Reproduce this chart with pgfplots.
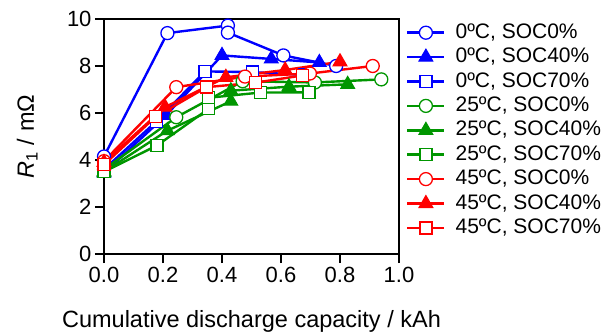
\documentclass[border=0pt]{standalone}
\usepackage{fontspec}
\setmainfont{Liberation Sans}
\usepackage{pgfplots}
\pgfplotsset{compat=1.18}
\definecolor{cb}{RGB}{0,0,255}
\definecolor{cg}{RGB}{0,150,0}
\definecolor{cr}{RGB}{255,0,0}
\begin{document}
\begin{tikzpicture}
\useasboundingbox (-104bp,-82bp) rectangle (507bp,254bp);
\begin{axis}[
  at={(0,0)}, anchor=south west,
  scale only axis, width=295bp, height=235bp,
  xmin=0, xmax=1, ymin=0, ymax=10,
  xtick={0,0.2,...,1.0}, ytick={0,2,...,10},
  x tick label style={/pgf/number format/.cd,fixed,fixed zerofill,precision=1,/tikz/.cd, yshift=-1bp},
  /pgf/number format/assume math mode=true,
  tick align=outside, tick pos=left,
  major tick length=9bp,
  axis line style={line width=1.8bp},
  every tick/.style={black, line width=1.8bp},
  tick label style={font=\fontsize{22bp}{24bp}\selectfont},
  label style={font=\fontsize{23.5bp}{26bp}\selectfont},
  xlabel={Cumulative discharge capacity / kAh},
  ylabel={\textit{R}\textsubscript{1} / mΩ},
  xlabel style={at={(axis description cs:0.5,-0.285)}, anchor=center},
  ylabel style={at={(axis description cs:-0.26,0.5)}, anchor=center},
  legend style={at={(axis description cs:1,1)}, anchor=north west, xshift=7bp, yshift=-4bp,
    draw=none, fill=none, inner sep=0pt, row sep=5.4bp,
    font=\fontsize{21bp}{23bp}\selectfont,
    nodes={inner sep=0pt, text height=15bp, text depth=4bp}},
  legend cell align=left,
  legend image code/.code={
    \draw[mark repeat=2,mark phase=2] plot coordinates {(0bp,0bp)(18.5bp,0bp)(37bp,0bp)};
    \path (47bp,0bp);
  },
  every axis plot/.append style={line width=2.4bp},
]
% 0 C
\addplot[cb, mark=*, mark size=6.5bp, mark options={fill=white, line width=1.3bp}] coordinates {(0,4.15)(0.215,9.4)(0.42,9.72)(0.42,9.42)(0.608,8.45)(0.787,8.0)};
\addlegendentry{0ºC, SOC0\%}
\addplot[cb, mark=triangle*, mark size=8bp, mark options={fill=cb, line width=1bp}] coordinates {(0,3.45)(0.21,5.9)(0.40,8.45)(0.567,8.3)(0.73,8.15)};
\addlegendentry{0ºC, SOC40\%}
\addplot[cb, mark=square*, mark size=6bp, mark options={fill=white, line width=1.3bp}] coordinates {(0,3.6)(0.178,5.65)(0.342,7.77)(0.504,7.74)(0.68,7.62)};
\addlegendentry{0ºC, SOC70\%}
% 25 C
\addplot[cg, mark=*, mark size=6.5bp, mark options={fill=white, line width=1.3bp}] coordinates {(0,3.6)(0.245,5.82)(0.47,7.35)(0.715,7.3)(0.94,7.43)};
\addlegendentry{25ºC, SOC0\%}
\addplot[cg, mark=triangle*, mark size=8bp, mark options={fill=cg, line width=1bp}] coordinates {(0,3.5)(0.215,5.25)(0.43,6.5)(0.43,6.95)(0.627,7.12)(0.826,7.22)};
\addlegendentry{25ºC, SOC40\%}
\addplot[cg, mark=square*, mark size=6bp, mark options={fill=white, line width=1.3bp}] coordinates {(0,3.5)(0.18,4.62)(0.355,6.18)(0.355,6.65)(0.53,6.87)(0.695,6.88)};
\addlegendentry{25ºC, SOC70\%}
% 45 C
\addplot[cr, mark=*, mark size=6.5bp, mark options={fill=white, line width=1.3bp}] coordinates {(0,3.95)(0.245,7.1)(0.478,7.55)(0.698,7.68)(0.911,8.0)};
\addlegendentry{45ºC, SOC0\%}
\addplot[cr, mark=triangle*, mark size=8bp, mark options={fill=cr, line width=1bp}] coordinates {(0,3.9)(0.207,6.25)(0.413,7.52)(0.614,7.83)(0.80,8.18)};
\addlegendentry{45ºC, SOC40\%}
\addplot[cr, mark=square*, mark size=6bp, mark options={fill=white, line width=1.3bp}] coordinates {(0,3.8)(0.175,5.84)(0.348,7.1)(0.513,7.29)(0.674,7.6)};
\addlegendentry{45ºC, SOC70\%}
\end{axis}
\end{tikzpicture}
\end{document}
